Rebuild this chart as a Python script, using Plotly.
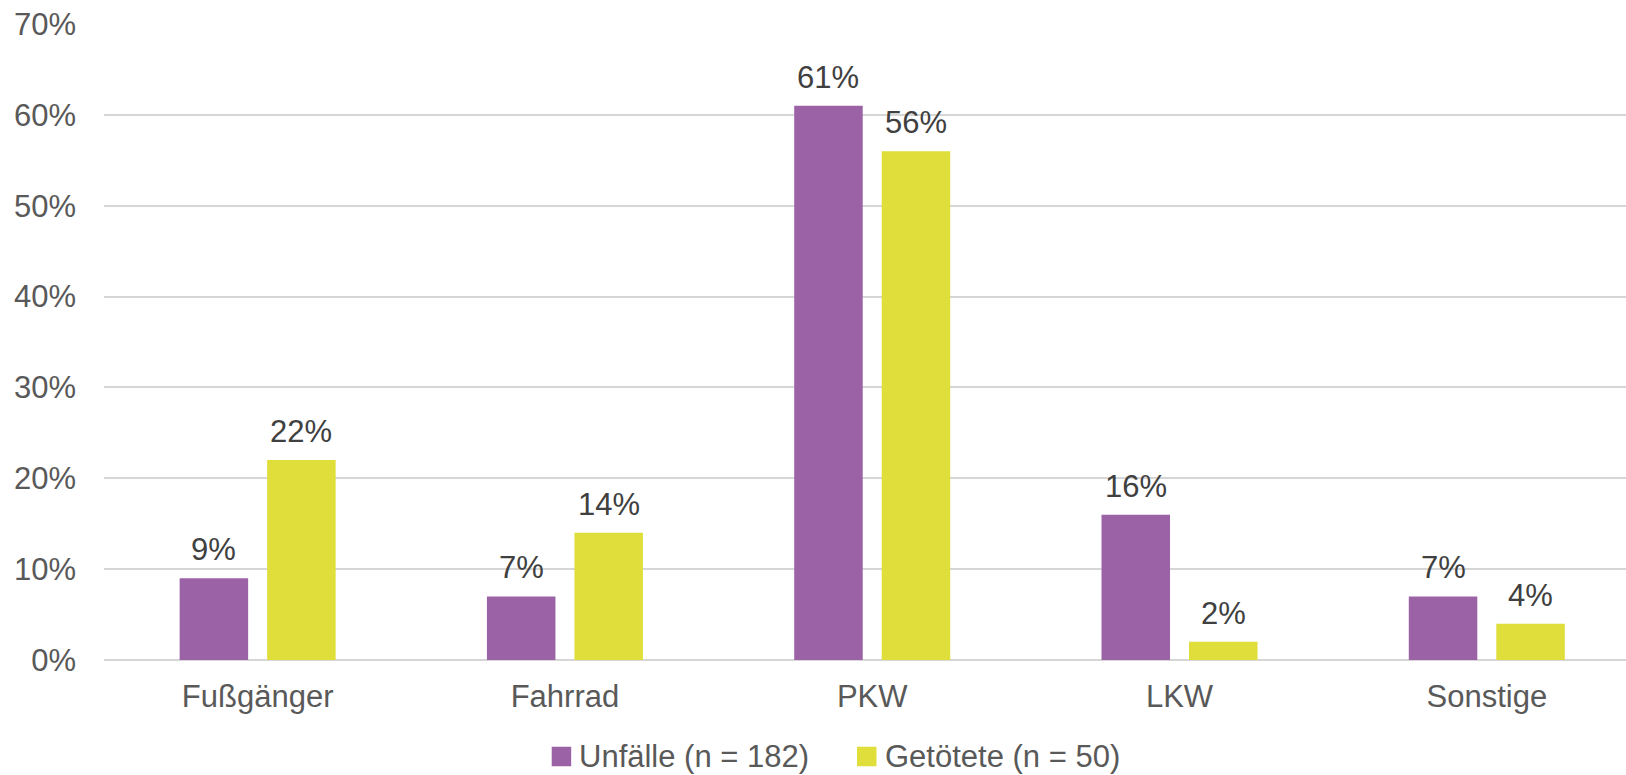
import plotly.graph_objects as go

categories = ["Fußgänger", "Fahrrad", "PKW", "LKW", "Sonstige"]
series_names = ["Unfälle (n = 182)", "Getötete (n = 50)"]
unfaelle = [0.09, 0.07, 0.61, 0.16, 0.07]
getoetete = [0.22, 0.14, 0.56, 0.02, 0.04]
y_ticks = [0, 0.1, 0.2, 0.3, 0.4, 0.5, 0.6, 0.7]
y_tick_labels = ["0%", "10%", "20%", "30%", "40%", "50%", "60%", "70%"]

colors = ["#9B63A6", "#DFDE3A"]
FONT = "Liberation Sans, Arial, sans-serif"
FS = 31

W, H = 1626, 775
ML, MR, MT, MB = 104, 0, 24, 115
plot_w = W - ML - MR
plot_h = H - MT - MB
base = MT + plot_h

fig = go.Figure()
for name, vals, col in zip(series_names, [unfaelle, getoetete], colors):
    fig.add_trace(go.Bar(x=categories, y=vals, name=name, marker_color=col,
                         marker_line_width=0, showlegend=False))

# data labels
offsets = [-43.75, 43.75]
for vals, dx in zip([unfaelle, getoetete], offsets):
    for c, v in zip(categories, vals):
        fig.add_annotation(x=c, y=v, xref="x", yref="y", text=f"{round(v*100)}%",
                           showarrow=False, xanchor="center", yanchor="bottom",
                           xshift=dx, yshift=9,
                           font=dict(family=FONT, size=FS, color="#404040"))

# legend (manual)
leg_items = [(551.7, 576.7), (857.0, 883.3)]
sq = 19.5
cy = 756.5
for (sx, tx), name, col in zip(leg_items, series_names, colors):
    fig.add_shape(type="rect", xref="paper", yref="paper",
                  x0=(sx - ML) / plot_w, x1=(sx + sq - ML) / plot_w,
                  y0=(base - (cy - sq / 2)) / plot_h,
                  y1=(base - (cy + sq / 2)) / plot_h,
                  fillcolor=col, line_width=0)
    fig.add_annotation(x=(tx - ML) / plot_w, y=(base - cy) / plot_h,
                       xref="paper", yref="paper", text=name, showarrow=False,
                       xanchor="left", yanchor="middle",
                       font=dict(family=FONT, size=FS, color="#595959"))

fig.update_layout(
    width=W, height=H,
    margin=dict(l=ML, r=MR, t=MT, b=MB, pad=0),
    paper_bgcolor="white", plot_bgcolor="white",
    barmode="group", bargap=0.4305, bargroupgap=0.217,
    font=dict(family=FONT, size=FS, color="#595959"),
    showlegend=False,
)
fig.update_xaxes(range=[-0.5, 4.453], showgrid=False, showline=False,
                 ticks="", tickfont=dict(family=FONT, size=FS, color="#595959"),
                 ticklabelstandoff=15)
fig.update_yaxes(range=[0, 0.7], tickvals=y_ticks, ticktext=y_tick_labels,
                 showgrid=True, gridcolor="#D6D6D6", gridwidth=1.5,
                 zeroline=True, zerolinecolor="#D6D6D6", zerolinewidth=1.5,
                 showline=False, ticks="", ticklabelstandoff=27,
                 tickfont=dict(family=FONT, size=FS, color="#595959"))

fig.write_html("out.html")
